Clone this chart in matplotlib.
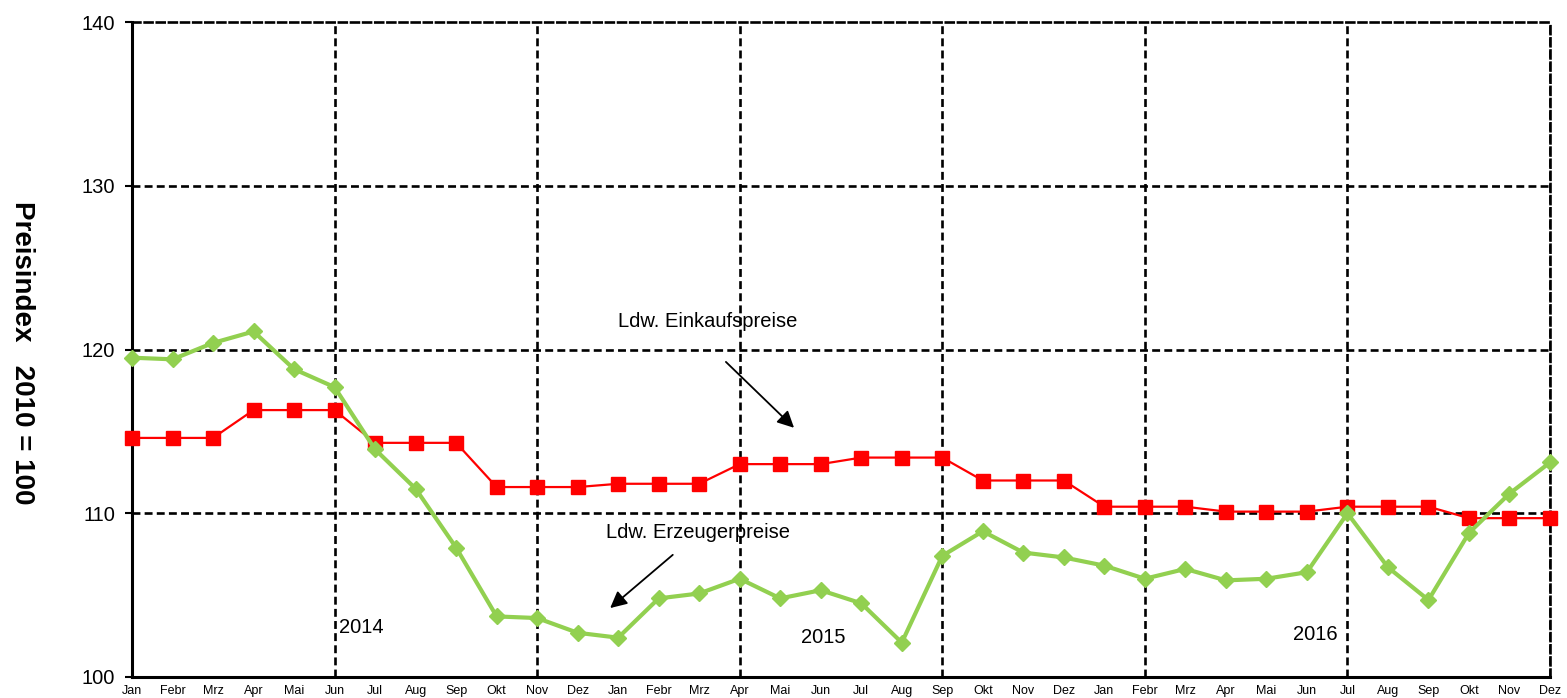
import matplotlib
matplotlib.use("Agg")
from matplotlib import pyplot as plt

plt.rcParams['font.family'] = ['Liberation Sans', 'DejaVu Sans']

# Monatsnamen 2014-2016
months = ['Jan', 'Febr', 'Mrz', 'Apr', 'Mai', 'Jun', 'Jul', 'Aug', 'Sep',
          'Okt', 'Nov', 'Dez'] * 3

# Ldw. Erzeugerpreise (grün)
erzeuger = [119.5, 119.4, 120.4, 121.1, 118.8, 117.7, 113.9, 111.5, 107.9,
            103.7, 103.6, 102.7, 102.4, 104.8, 105.1, 106.0, 104.8, 105.3,
            104.5, 102.1, 107.4, 108.9, 107.6, 107.3, 106.8, 106.0, 106.6,
            105.9, 106.0, 106.4, 110.0, 106.7, 104.7, 108.8, 111.2, 113.1]

# Ldw. Einkaufspreise (rot)
einkauf = [114.6, 114.6, 114.6, 116.3, 116.3, 116.3, 114.3, 114.3, 114.3,
           111.6, 111.6, 111.6, 111.8, 111.8, 111.8, 113.0, 113.0, 113.0,
           113.4, 113.4, 113.4, 112.0, 112.0, 112.0, 110.4, 110.4, 110.4,
           110.1, 110.1, 110.1, 110.4, 110.4, 110.4, 109.7, 109.7, 109.7]

xs = list(range(len(months)))
grid_x = list(range(5, 36, 5))

fig = plt.figure(figsize=(15.67, 6.98), dpi=100)
ax = fig.add_axes([132 / 1567, 21 / 698, 1418 / 1567, 655 / 698])

dash = (0, (3, 1.6))
# gestrichelte Gitterlinien
for gx in grid_x:
    ax.axvline(gx, color='black', ls=dash, lw=1.9, zorder=1)
for gy in [110, 120, 130]:
    ax.axhline(gy, color='black', ls=dash, lw=1.9, zorder=1)

ax.plot(xs, einkauf, '-', color='#ff0000', lw=1.6, marker='s', ms=9.5,
        zorder=3, clip_on=False)
ax.plot(xs, erzeuger, '-', color='#92d050', lw=3, marker='D', ms=8,
        zorder=4, clip_on=False)

ax.set_xlim(0, 35)
ax.set_ylim(100, 140)
ax.set_yticks([100, 110, 120, 130, 140])
ax.tick_params(axis='y', labelsize=14.5, length=5, width=1.5,
               direction='out', pad=7)

ax.set_xticks(xs)
ax.set_xticklabels(months, fontsize=9)
ax.tick_params(axis='x', which='major', length=0, pad=6)
ax.set_xticks([0] + grid_x, minor=True)
ax.tick_params(axis='x', which='minor', length=5, width=1.5, direction='out')

for s in ['left', 'bottom']:
    ax.spines[s].set_linewidth(2.2)
for s in ['top', 'right']:
    ax.spines[s].set_linestyle(dash)
    ax.spines[s].set_linewidth(1.9)

fig.text(22 / 1567, 1 - 353 / 698, 'Preisindex   2010 = 100', fontsize=20,
         fontweight='bold', rotation=270, ha='center', va='center')

# Jahreszahlen
ax.text(5.12, 103.0, '2014', fontsize=14.5, ha='left', va='center')
ax.text(17.06, 102.4, '2015', fontsize=14.5, ha='center', va='center')
ax.text(29.2, 102.6, '2016', fontsize=14.5, ha='center', va='center')

# Beschriftungen mit Pfeilen
ax.text(14.2, 121.7, 'Ldw. Einkaufspreise', fontsize=14.5, ha='center',
        va='center')
ax.annotate('', xy=(16.39, 115.1), xytext=(14.61, 119.36),
            arrowprops=dict(arrowstyle='-|>', color='black', lw=1.3,
                            mutation_scale=25))
ax.text(13.96, 108.85, 'Ldw. Erzeugerpreise', fontsize=14.5, ha='center',
        va='center')
ax.annotate('', xy=(11.75, 104.1), xytext=(13.40, 107.57),
            arrowprops=dict(arrowstyle='-|>', color='black', lw=1.3,
                            mutation_scale=25))

fig.savefig('out.png', dpi=100)
